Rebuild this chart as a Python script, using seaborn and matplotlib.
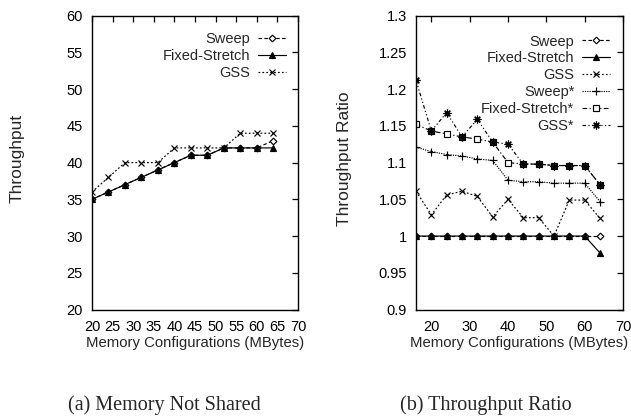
import matplotlib
matplotlib.use("Agg")
import matplotlib.pyplot as plt
import seaborn as sns
import pandas as pd

# ---------------- data ----------------
mem_a = [20, 24, 28, 32, 36, 40, 44, 48, 52, 56, 60, 64]
sweep_a = [35, 36, 37, 38, 39, 40, 41, 41, 42, 42, 42, 43]
fixed_a = [35, 36, 37, 38, 39, 40, 41, 41, 42, 42, 42, 42]
gss_a = [36, 38, 40, 40, 40, 42, 42, 42, 42, 44, 44, 44]

mem_b = [16, 20, 24, 28, 32, 36, 40, 44, 48, 52, 56, 60, 64]
sweep_b = [1.0, 1.0, 1.0, 1.0, 1.0, 1.0, 1.0, 1.0, 1.0, 1.0, 1.0, 1.0, 1.0]
fixed_b = [1.0, 1.0, 1.0, 1.0, 1.0, 1.0, 1.0, 1.0, 1.0, 1.0, 1.0, 1.0, 0.977]
gss_b = [1.061, 1.029, 1.056, 1.061, 1.054, 1.026, 1.050, 1.025, 1.025, 1.0, 1.049, 1.049, 1.024]
sweep_star_b = [1.121, 1.115, 1.111, 1.109, 1.105, 1.103, 1.076, 1.074, 1.074, 1.072, 1.072, 1.072, 1.047]
fixed_star_b = [1.152, 1.143, 1.139, 1.135, 1.132, 1.128, 1.100, 1.098, 1.098, 1.096, 1.096, 1.096, 1.070]
gss_star_b = [1.212, 1.143, 1.168, 1.135, 1.159, 1.128, 1.125, 1.098, 1.098, 1.096, 1.096, 1.096, 1.070]

labels_a = ["Sweep", "Fixed-Stretch", "GSS"]
labels_b = ["Sweep", "Fixed-Stretch", "GSS", "Sweep*", "Fixed-Stretch*", "GSS*"]

xticks_a = [20, 25, 30, 35, 40, 45, 50, 55, 60, 65, 70]
yticks_a = [20, 25, 30, 35, 40, 45, 50, 55, 60]
xticks_b = [20, 30, 40, 50, 60, 70]
yticks_b = [0.9, 0.95, 1.0, 1.05, 1.1, 1.15, 1.2, 1.25, 1.3]
ytick_labels_b = ["0.9", "0.95", "1", "1.05", "1.1", "1.15", "1.2", "1.25", "1.3"]

xlabel = "Memory Configurations (MBytes)"
ylabel_a = "Throughput"
ylabel_b = "Throughput Ratio"
caption_a = "(a) Memory Not Shared"
caption_b = "(b) Throughput Ratio"

# ---------------- styles ----------------
styles = {
    "Sweep": dict(linestyle=(0, (3, 2)), marker="D", markersize=3.4, markerfacecolor="white"),
    "Fixed-Stretch": dict(linestyle="-", marker="^", markersize=4.4, markerfacecolor="black"),
    "GSS": dict(linestyle=(0, (1.5, 1.8)), marker="x", markersize=4.4, markerfacecolor="black"),
    "Sweep*": dict(linestyle=(0, (1, 1)), marker="+", markersize=5.2, markerfacecolor="black"),
    "Fixed-Stretch*": dict(linestyle=(0, (4, 2, 1, 2)), marker="s", markersize=3.9, markerfacecolor="white"),
    "GSS*": dict(linestyle=(0, (3, 2, 1, 2, 1, 2)), marker=(8, 2, 0), markersize=5.6, markerfacecolor="black"),
}

sns.set_theme(style="white")
plt.rcParams["font.family"] = ["Liberation Sans", "DejaVu Sans"]
plt.rcParams["axes.linewidth"] = 1.0
plt.rcParams["axes.edgecolor"] = "black"

fig = plt.figure(figsize=(6.31, 4.16), dpi=100)
W, H = 631.0, 416.0
ax_a = fig.add_axes([92 / W, (H - 309.5) / H, 206 / W, 293.8 / H])
ax_b = fig.add_axes([416 / W, (H - 309.5) / H, 207 / W, 293.8 / H])

df_a = pd.DataFrame({"mem": mem_a, "Sweep": sweep_a, "Fixed-Stretch": fixed_a, "GSS": gss_a})
df_b = pd.DataFrame({"mem": mem_b, "Sweep": sweep_b, "Fixed-Stretch": fixed_b, "GSS": gss_b,
                     "Sweep*": sweep_star_b, "Fixed-Stretch*": fixed_star_b, "GSS*": gss_star_b})


def draw(ax, df, labels):
    for lab in labels:
        st = styles[lab]
        sns.lineplot(data=df, x="mem", y=lab, ax=ax, color="black", linewidth=0.85,
                     linestyle=st["linestyle"], marker=st["marker"], markersize=st["markersize"],
                     markerfacecolor=st["markerfacecolor"], markeredgecolor="black",
                     markeredgewidth=0.85, label=lab)


draw(ax_a, df_a, labels_a)
draw(ax_b, df_b, labels_b)

for ax in (ax_a, ax_b):
    ax.tick_params(direction="in", length=4, width=0.9, top=True, right=True,
                   labelsize=10.5, colors="black")
    ax.tick_params(axis="x", pad=7.5)
    ax.tick_params(axis="y", pad=6.5)
    ax.set_xlabel(xlabel, fontsize=10.7, labelpad=1)
    for s in ax.spines.values():
        s.set_color("black")

ax_a.set_xlim(20, 70)
ax_a.set_ylim(20, 60)
ax_a.set_xticks(xticks_a)
ax_a.set_yticks(yticks_a)
ax_a.set_ylabel(ylabel_a, fontsize=12.5)
ax_a.yaxis.set_label_coords(-0.325, 0.514)
ax_a.xaxis.set_label_coords(0.5, -0.09)

ax_b.set_xlim(16, 70)
ax_b.set_ylim(0.9, 1.3)
ax_b.set_xticks(xticks_b)
ax_b.set_yticks(yticks_b)
ax_b.set_yticklabels(ytick_labels_b)
ax_b.set_ylabel(ylabel_b, fontsize=12.5)
ax_b.yaxis.set_label_coords(-0.31, 0.514)
ax_b.xaxis.set_label_coords(0.5, -0.09)

leg_kw = dict(frameon=False, markerfirst=False, fontsize=10.5, handlelength=1.9,
              handletextpad=0.55, labelspacing=0.2, borderpad=0, borderaxespad=0,
              numpoints=1, loc="upper right")
ax_a.legend(bbox_to_anchor=(0.942, 0.943), **leg_kw)
ax_b.legend(bbox_to_anchor=(0.937, 0.936), **leg_kw)

fig.text(164 / W, 6 / H, caption_a, family=["Liberation Serif", "DejaVu Serif"],
         fontsize=14.5, ha="center", va="baseline")
fig.text(486 / W, 6 / H, caption_b, family=["Liberation Serif", "DejaVu Serif"],
         fontsize=14.5, ha="center", va="baseline")

fig.savefig("out.png", dpi=100, facecolor="white")
